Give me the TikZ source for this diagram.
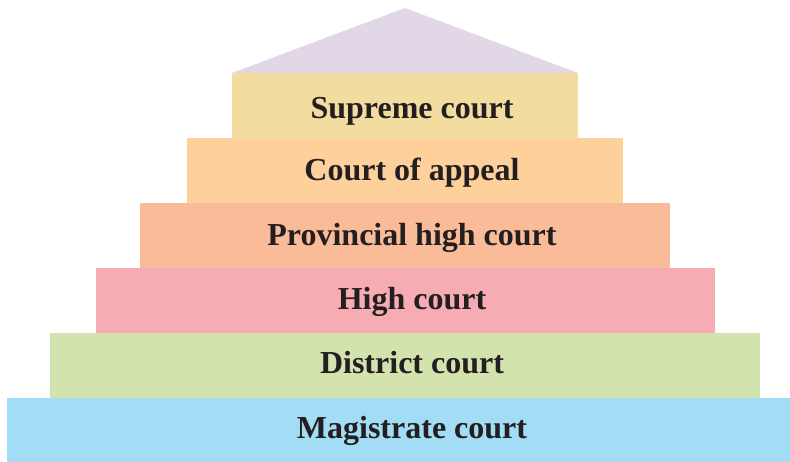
\documentclass[tikz,border=0pt]{standalone}
\usepackage{fontspec}
\setmainfont{Liberation Serif}
\definecolor{roofc}{HTML}{E2D7E6}
\definecolor{supc}{HTML}{F2DC9F}
\definecolor{appc}{HTML}{FDD09C}
\definecolor{provc}{HTML}{FABB99}
\definecolor{highc}{HTML}{F6ACB2}
\definecolor{distc}{HTML}{D3E3AE}
\definecolor{magc}{HTML}{A2DCF5}
\definecolor{txtc}{HTML}{231F20}
\tikzset{
  tier/.style={rectangle, inner sep=0pt, minimum height=65pt},
  tiertext/.style={anchor=base, inner sep=0pt, text=txtc,
    font=\fontsize{32}{38}\selectfont\bfseries}
}
\begin{document}
\begin{tikzpicture}[x=1pt,y=-1pt]
\useasboundingbox (0,0) rectangle (790,462);
\fill[roofc] (232,73) -- (405,8) -- (578,73) -- cycle;
\node[tier, fill=supc, minimum width=346pt] (sup) at (405,105.5) {};
\node[tier, fill=appc, minimum width=436pt] (app) at (405,170.5) {};
\node[tier, fill=provc, minimum width=530pt] (prov) at (405,235.5) {};
\node[tier, fill=highc, minimum width=619pt] (high) at (405.5,300.5) {};
\node[tier, fill=distc, minimum width=710pt] (dist) at (405,365.5) {};
\node[tier, fill=magc, minimum width=783pt, minimum height=64pt] (mag) at (398.5,430) {};
\node[tiertext] (supt) at (412,118.3) {Supreme court};
\node[tiertext] (appt) at (412,180.7) {Court of appeal};
\node[tiertext] (provt) at (412,245.7) {Provincial high court};
\node[tiertext] (hight) at (412,309.3) {High court};
\node[tiertext] (distt) at (412,373.3) {District court};
\node[tiertext] (magt) at (412,438.3) {Magistrate court};
\end{tikzpicture}
\end{document}
